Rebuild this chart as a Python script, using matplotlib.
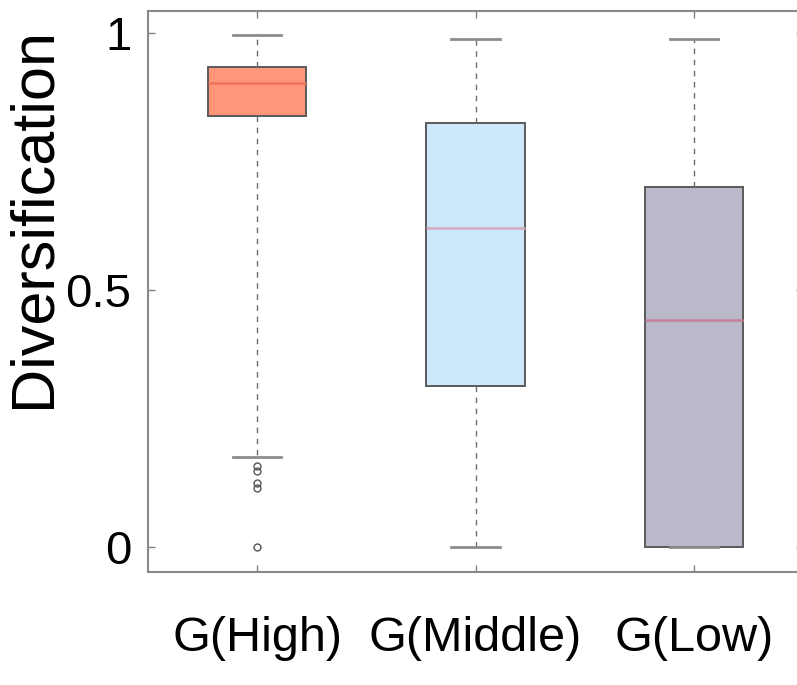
import matplotlib
matplotlib.use("Agg")
import matplotlib.pyplot as plt

# data -------------------------
groups    = ["G(High)", "G(Middle)", "G(Low)"]
whis_lo   = [0.175, 0.0, 0.0]
q1        = [0.838, 0.313, 0.0]
median    = [0.903, 0.620, 0.442]
q3        = [0.934, 0.825, 0.700]
whis_hi   = [0.996, 0.988, 0.988]
fliers    = [[0.158, 0.147, 0.124, 0.115, 0.0], [], []]
y_ticks   = [0, 0.5, 1]
y_labels  = ["0", "0.5", "1"]

box_colors = ["#FF9679", "#CDE7FB", "#B9B9CA"]
med_colors = ["#EE735C", "#D9A9BE", "#C77C98"]
#------------------------------

plt.rcParams['font.family'] = 'Liberation Sans'

stats = []
for i in range(len(groups)):
    stats.append(dict(label=groups[i], whislo=whis_lo[i], q1=q1[i], med=median[i],
                      q3=q3[i], whishi=whis_hi[i], fliers=fliers[i]))

fig = plt.figure(figsize=(7.97, 6.85), dpi=100)
ax = fig.add_axes([148/797, (685-572)/685, (803-148)/797, (572-11)/685])

bp = ax.bxp(stats, positions=[1, 2, 3], widths=0.45, capwidths=0.22,
            patch_artist=True, showfliers=True,
            boxprops=dict(edgecolor='#5a5a5a', linewidth=1.4),
            whiskerprops=dict(color='#6e6e6e', linestyle=(0, (4, 4)), linewidth=1.0),
            capprops=dict(color='#8c8c8c', linewidth=2.0),
            medianprops=dict(linewidth=1.8),
            flierprops=dict(marker='o', markersize=5, markerfacecolor='none',
                            markeredgecolor='#555555', markeredgewidth=1.0))
for patch, c in zip(bp['boxes'], box_colors):
    patch.set_facecolor(c)
for med, c in zip(bp['medians'], med_colors):
    med.set_color(c)

ax.set_xlim(0.5, 3.5)
ax.set_ylim(-0.049, 1.043)
ax.set_yticks(y_ticks)
ax.set_yticklabels(y_labels, fontsize=34)
ax.set_xticks([1, 2, 3])
ax.set_xticklabels(groups, fontsize=35)
ax.tick_params(direction='in', length=5, width=1, color='#808080',
               top=True, right=True)
ax.tick_params(axis='x', pad=32)
ax.tick_params(axis='y', pad=12)
for s in ax.spines.values():
    s.set_color('#8a8a8a')
    s.set_linewidth(1.5)

ax.set_ylabel("Diversification", fontsize=44)
ax.yaxis.set_label_coords(-0.130, 0.632)

fig.savefig("out.png", dpi=100)
